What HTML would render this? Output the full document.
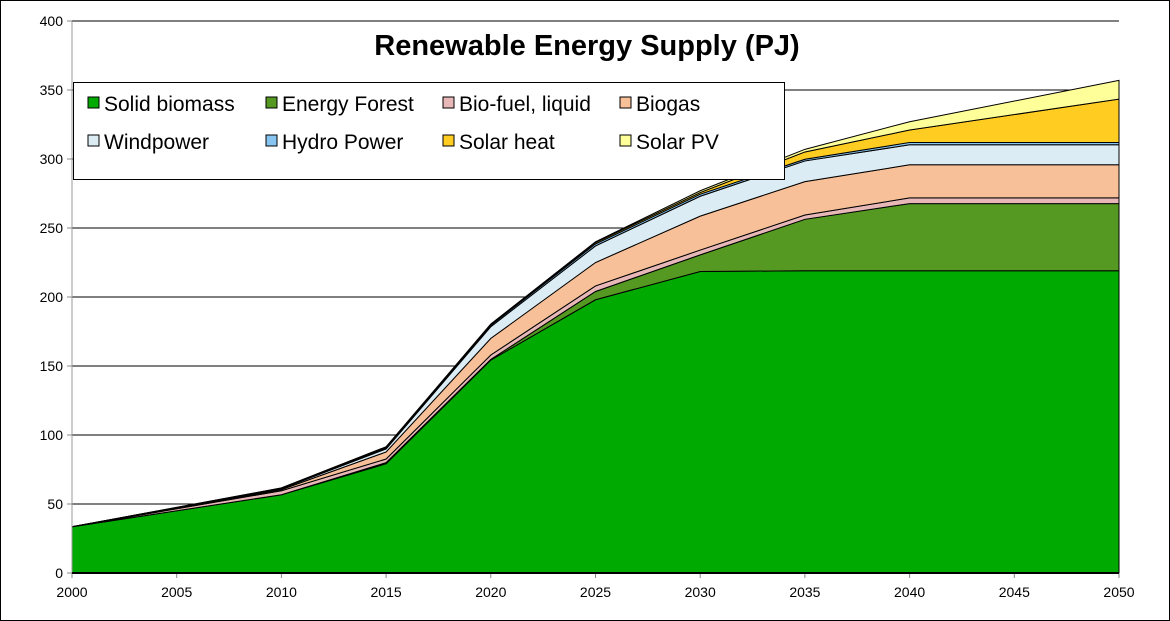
<!DOCTYPE html>
<html><head><meta charset="utf-8"><style>
body{margin:0;background:#fff;}
svg{display:block;font-family:"Liberation Sans",Arial,sans-serif;}
</style></head><body>
<svg id="chart" width="1170" height="621" viewBox="0 0 1170 621">
<rect x="0.5" y="0.5" width="1169" height="620" fill="#fff" stroke="#000"/>
<g id="grid"></g>
<g id="areas"></g>
<g id="axes"></g>
<text x="587" y="55" text-anchor="middle" font-size="29" font-weight="bold">Renewable Energy Supply (PJ)</text>
<g id="legend">
<rect x="73.5" y="82.5" width="711" height="97" fill="#fff" stroke="#000"/>
</g>
</svg>
<script>
const years = [2000, 2010, 2015, 2020, 2025, 2030, 2035, 2040, 2050];
const seriesNames = ["Solid biomass","Energy Forest","Bio-fuel, liquid","Biogas","Windpower","Hydro Power","Solar heat","Solar PV"];
const solidBiomass = [33.5, 56.7, 79.2, 154.3, 198, 218.5, 219, 219, 219];
const energyForest = [0, 0, 0.8, 0.5, 6, 12, 37.3, 48.7, 48.7];
const bioFuel = [0, 2.9, 2.6, 3.2, 4, 3.5, 3.1, 4.1, 4.1];
const biogas = [0, 0.8, 5.1, 12, 17, 24.6, 24.2, 24, 24];
const windpower = [0, 0.6, 2.2, 8.5, 12, 14.4, 15, 14.5, 14.5];
const hydroPower = [0, 0.3, 0.8, 1, 1.5, 1.5, 1.2, 1.7, 1.7];
const solarHeat = [0, 0.2, 0.4, 0.5, 1, 1.2, 5.3, 9, 31.4];
const solarPV = [0, 0.2, 0.4, 0.4, 0.5, 1.3, 1.9, 6, 13.6];
const yTicks = [0, 50, 100, 150, 200, 250, 300, 350, 400];
const xTicks = [2000, 2005, 2010, 2015, 2020, 2025, 2030, 2035, 2040, 2045, 2050];
const colors = ["#00aa00","#559922","#e8b8b8","#f8c098","#dcecf4","#88c4f0","#ffcc22","#ffff99"];

const NS = "http://www.w3.org/2000/svg";
const X0 = 72, X1 = 1119, Y0 = 573, Y1 = 21;
const xs = y => X0 + (y - 2000) / 50 * (X1 - X0);
const ys = v => Y0 - v / 400 * (Y0 - Y1);
function mk(tag, attrs, parent) { const e = document.createElementNS(NS, tag); for (const k in attrs) e.setAttribute(k, attrs[k]); parent.appendChild(e); return e; }

const grid = document.getElementById("grid");
const axes = document.getElementById("axes");
yTicks.forEach(t => {
  if (t > 0) {
    const l = mk("line", {x1: X0, x2: X1, y1: ys(t), y2: ys(t), stroke: "#000", "stroke-width": 1}, grid);
    
    
  }
  const tk = mk("line", {x1: X0 - 5, x2: X0, y1: ys(t), y2: ys(t), stroke: "#888"}, axes);
  
  
  const tx = mk("text", {x: X0 - 9, y: ys(t) + 5, "text-anchor": "end", "font-size": 14}, axes);
  tx.textContent = t;
  
  
});
xTicks.forEach(t => {
  const tk = mk("line", {x1: xs(t), x2: xs(t), y1: Y0, y2: Y0 + 5, stroke: "#888"}, axes);
  
  
  const tx = mk("text", {x: xs(t), y: Y0 + 24, "text-anchor": "middle", "font-size": 14}, axes);
  tx.textContent = t;
  
  
});
const ya = mk("line", {x1: X0, x2: X0, y1: Y1, y2: Y0, stroke: "#999"}, axes);


const xa = mk("line", {x1: X0, x2: X1, y1: Y0, y2: Y0, stroke: "#000", "stroke-width": 2}, axes);



const series = [solidBiomass, energyForest, bioFuel, biogas, windpower, hydroPower, solarHeat, solarPV];
const areas = document.getElementById("areas");
let base = years.map(() => 0);
series.forEach((s, i) => {
  const top = base.map((b, j) => b + s[j]);
  let d = "M" + years.map((y, j) => xs(y) + "," + ys(top[j])).join(" L");
  for (let j = years.length - 1; j >= 0; j--) d += " L" + xs(years[j]) + "," + ys(base[j]);
  d += " Z";
  const p = mk("path", {d: d, fill: colors[i], stroke: "#000", "stroke-width": 1}, areas);
  
  
  base = top;
});

const legend = document.getElementById("legend");
const lx = [88, 266, 443, 620];
seriesNames.forEach((n, i) => {
  const r = Math.floor(i / 4), c = i % 4;
  const y = 103 + r * 38;
  const m = mk("rect", {x: lx[c], y: y - 6, width: 11, height: 11, fill: colors[i], stroke: "#000"}, legend);
  
  
  const t = mk("text", {x: lx[c] + 16, y: y + 8, "font-size": 21}, legend);
  t.textContent = n;
  
  
});
</script>
</body></html>
